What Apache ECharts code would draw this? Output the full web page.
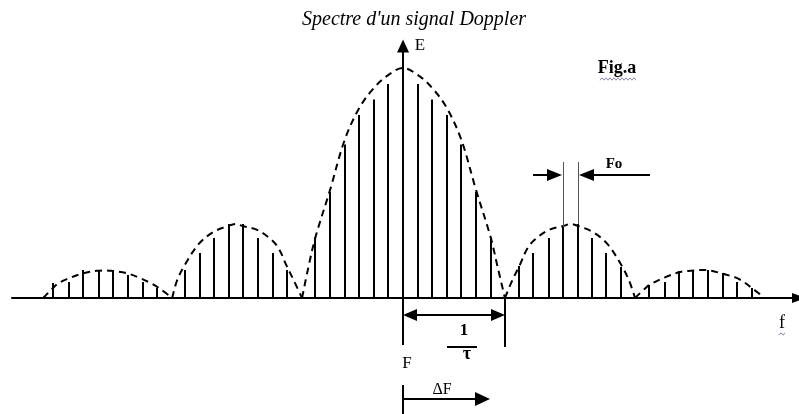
<!DOCTYPE html>
<html>
<head>
<meta charset="utf-8">
<script src="https://cdn.jsdelivr.net/npm/echarts@6/dist/echarts.min.js"></script>
<style>
  html, body { margin: 0; padding: 0; background: #fff; }
  #chart { width: 799px; height: 414px; }
</style>
</head>
<body>
<div id="chart"></div>
<script>
// Spectral lines: frequency position (in units of the line spacing Fo, 0 = carrier F)
const stemX = [
  -23.97, -22.88, -21.92, -20.82, -19.86, -18.84, -17.81, -16.85,
  -14.93, -13.9, -12.95, -11.92, -10.96, -9.93, -8.9, -7.95,
  -6, -5, -4, -3, -2, -1, 0, 1, 2, 3, 4, 5, 6,
  7.95, 8.9, 10, 10.96, 11.99, 12.95, 13.9, 14.93,
  16.85, 17.95, 18.9, 19.86, 20.89, 21.92, 22.88, 23.9
];
// Spectral lines: amplitude (main peak = 100)
const stemY = [
  6.5, 7, 12.2, 12.2, 12.2, 10, 7, 4.3,
  12.2, 19.6, 26.1, 32.2, 32.2, 26.1, 19.6, 12.2,
  26.3, 46.1, 66.7, 79.6, 86.3, 93, 100, 93, 86.3, 79.6, 66.7, 46.1, 26.3,
  13.9, 19.6, 26.1, 30.9, 32.2, 26.1, 19.6, 13.5,
  5.7, 7, 11.7, 12.2, 12.2, 10.9, 7, 4.3
];

// Envelope of the spectrum, one arch per lobe
const envLeft2 = [[-24.66, 0], [-24, 4.3], [-23.6, 6.5], [-23, 8.3], [-22, 10.6], [-21, 11.8],
  [-20.4, 12], [-20, 11.8], [-19, 10.9], [-18, 8.6], [-17.3, 6.5], [-16.7, 4.2], [-15.82, 0]];
const envLeft1 = [[-15.82, 0], [-15.5, 7.4], [-15, 13.9], [-14, 23.5], [-13, 28.7], [-12, 31.3],
  [-11.45, 32.2], [-11, 31.3], [-10, 29.6], [-9, 25.2], [-8.5, 21.3], [-8, 14.3], [-7.5, 7.8], [-6.92, 0]];
const envMain = [[-6.92, 0], [-6.5, 13], [-6, 26.5], [-5, 47], [-4, 68.7], [-3, 82.6], [-2, 91.3],
  [-1, 97], [0, 100], [1, 97], [2, 91.3], [3, 82.6], [4, 68.7], [5, 47], [6, 26.5], [6.5, 13], [6.98, 0]];
const envRight1 = [[6.98, 0], [7.5, 7.8], [8, 14.3], [8.5, 21.3], [9, 25.2], [10, 29.6], [11, 31.3],
  [11.47, 32.2], [12, 31.3], [13, 28.7], [14, 23.5], [15, 13.9], [15.5, 7.4], [15.9, 0]];
const envRight2 = [[15.9, 0], [16.7, 4.8], [17, 6.1], [18, 9.1], [19, 11.3], [20, 12], [20.5, 12.2],
  [21, 12], [22, 10.4], [23, 8.3], [24, 3.9], [24.8, 0]];

const titleText = "Spectre d'un signal Doppler";

const SERIF = '"Liberation Serif", "Times New Roman", serif';
const INK = '#000';

// The two neighbouring lines used to show the spacing Fo
const foPair = [32, 33];
// First zero of the main lobe (1/τ from the carrier)
const mainZero = envMain[envMain.length - 1][0];

function renderStem(params, api) {
  const x = api.value(0), v = api.value(1);
  const a = api.coord([x, 0]), b = api.coord([x, v]);
  const cx = Math.round(a[0]);
  return {
    type: 'line',
    shape: { x1: cx, y1: a[1], x2: cx, y2: b[1] },
    style: { stroke: INK, lineWidth: 2 }
  };
}

function renderNotes(params, api) {
  const P = (x, y) => { const p = api.coord([x, y]); return [Math.round(p[0]), Math.round(p[1])]; };
  const kids = [];
  const seg = (a, b, w, c) => kids.push({
    type: 'line', shape: { x1: a[0], y1: a[1], x2: b[0], y2: b[1] },
    style: { stroke: c || INK, lineWidth: w || 2 }
  });
  // filled arrow head; (dx, dy) is the pointing direction
  const head = (tip, dx, dy, len, half) => {
    const bx = tip[0] - dx * len, by = tip[1] - dy * len;
    kids.push({
      type: 'polygon',
      shape: { points: [tip, [bx - dy * half, by + dx * half], [bx + dy * half, by - dx * half]] },
      style: { fill: INK }
    });
  };
  const text = (p, s, weight, size) => kids.push({
    type: 'text',
    style: {
      x: p[0], y: p[1], text: s, fill: INK, align: 'center', verticalAlign: 'middle',
      font: weight + ' ' + size + 'px ' + SERIF
    }
  });
  // wavy proofing underline
  const squiggle = (a, b) => {
    const pts = [];
    for (let x = a[0], k = 0; x <= b[0]; x += 2, k++) pts.push([x, a[1] + (k % 2 ? -1.2 : 1.2)]);
    kids.push({ type: 'polyline', shape: { points: pts }, style: { stroke: '#8a8aa8', lineWidth: 1, fill: null } });
  };

  // axis letters
  text(P(1.16, 109.6), 'E', 'normal', 17);
  text(P(25.96, -10.9), 'f', 'normal', 18);
  squiggle(P(25.75, -15.6), P(26.25, -15.6));
  text(P(14.66, 100.2), 'Fig.a', 'bold', 18);
  squiggle(P(13.5, 95.2), P(15.95, 95.2));

  // spacing Fo between two lines
  const fa = stemX[foPair[0]], fb = stemX[foPair[1]];
  const ta = P(fa, stemY[foPair[0]]), tb = P(fb, stemY[foPair[1]]);
  const ua = P(fa, 59.1), ub = P(fb, 59.1);
  seg([ta[0] + 0.5, ta[1]], [ua[0] + 0.5, ua[1]], 1, '#555');
  seg([tb[0] + 0.5, tb[1]], [ub[0] + 0.5, ub[1]], 1, '#555');
  const la = P(8.9, 53.5), lt = P(fa, 53.5);
  seg(la, [lt[0] - 10, lt[1]]);
  head([lt[0] - 1, lt[1]], 1, 0, 15, 6);
  const ra = P(16.92, 53.5), rt = P(fb, 53.5);
  seg(ra, [rt[0] + 10, rt[1]]);
  head([rt[0] + 1, rt[1]], -1, 0, 15, 6);
  text(P(14.49, 58.3), 'Fo', 'bold', 15);

  // 1/τ : carrier to first zero
  seg(P(0, 0), P(0, -20.4));
  seg(P(mainZero, 0), P(mainZero, -21.3));
  const d0 = P(0, -7.4), d1 = P(mainZero, -7.4);
  seg([d0[0] + 8, d0[1]], [d1[0] - 8, d1[1]]);
  head(d0, -1, 0, 14, 6);
  head(d1, 1, 0, 14, 6);
  text(P(4.18, -14.3), '1', 'bold', 17);
  seg(P(3.01, -21.3), P(5.07, -21.3));
  text(P(4.38, -24.4), 'τ', 'bold', 18);

  // carrier F and Doppler shift ΔF
  text(P(0.27, -28.7), 'F', 'normal', 17);
  seg(P(0, -37.8), P(0, -52));
  const s0 = P(0, -43.9), s1 = P(5.96, -43.9);
  seg(s0, [s1[0] - 10, s1[1]]);
  head(s1, 1, 0, 15, 7);
  text(P(2.7, -40.2), 'ΔF', 'normal', 16);

  return { type: 'group', children: kids };
}

const envelopes = [envLeft2, envLeft1, envMain, envRight1, envRight2];

const chart = echarts.init(document.getElementById('chart'), null, { renderer: 'canvas' });
chart.setOption({
  animation: false,
  backgroundColor: '#fff',
  title: {
    text: titleText,
    left: 302,
    top: 10,
    padding: 0,
    textStyle: { fontFamily: SERIF, fontStyle: 'italic', fontWeight: 'normal', fontSize: 20, color: INK }
  },
  grid: { left: 12, right: 2, top: 45, bottom: 116, outerBoundsMode: 'none', containLabel: false },
  xAxis: {
    type: 'value', min: -26.8, max: 27,
    axisLine: {
      onZero: true, symbol: ['none', 'triangle'], symbolSize: [10, 14], symbolOffset: [0, 2],
      lineStyle: { color: INK, width: 2 }
    },
    axisTick: { show: false }, axisLabel: { show: false }, splitLine: { show: false }
  },
  yAxis: {
    type: 'value', min: 0, max: 110,
    axisLine: {
      onZero: true, symbol: ['none', 'triangle'], symbolSize: [12, 13], symbolOffset: [0, -1],
      lineStyle: { color: INK, width: 2 }
    },
    axisTick: { show: false }, axisLabel: { show: false }, splitLine: { show: false }
  },
  series: [
    ...envelopes.map(d => ({
      type: 'line', data: d, smooth: 0.35, symbol: 'none', silent: true, z: 2,
      lineStyle: { color: INK, width: 2, type: [7, 5] }
    })),
    {
      type: 'custom', silent: true, z: 3, clip: false,
      data: stemX.map((x, i) => [x, stemY[i]]),
      encode: { x: 0, y: 1 },
      renderItem: renderStem
    },
    {
      type: 'custom', silent: true, z: 4, clip: false,
      data: [[0, 0]],
      encode: { x: 0, y: 1 },
      renderItem: renderNotes
    }
  ]
});
</script>
</body>
</html>
